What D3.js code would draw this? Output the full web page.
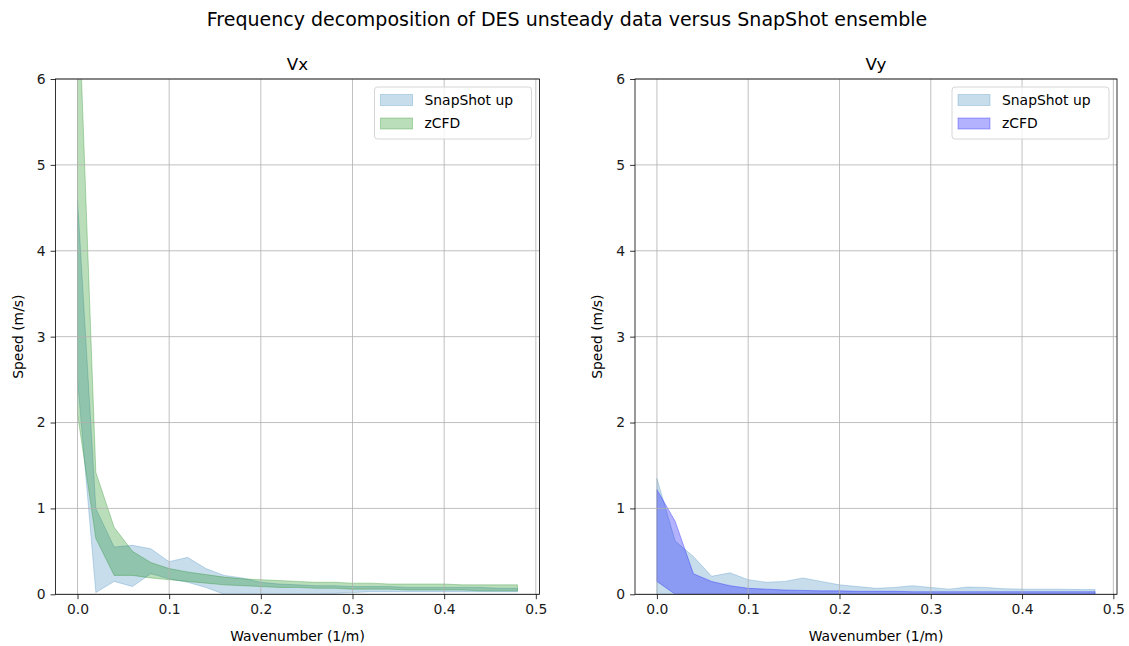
<!DOCTYPE html>
<html>
<head>
<meta charset="utf-8">
<script src="https://cdn.jsdelivr.net/npm/d3@7"></script>
<style>
  html, body { margin: 0; padding: 0; background: #fff; }
  svg { display: block; font-family: "DejaVu Sans", sans-serif; }
</style>
</head>
<body>
<svg id="chart" width="1129" height="646"></svg>
<script>
// ---------- data ----------
const wavenumber = [0.00, 0.02, 0.04, 0.06, 0.08, 0.10, 0.12, 0.14, 0.16, 0.18, 0.20, 0.22, 0.24,
                    0.26, 0.28, 0.30, 0.32, 0.34, 0.36, 0.38, 0.40, 0.42, 0.44, 0.46, 0.48];

const vxSnapUpper = [4.6, 1.0, 0.55, 0.57, 0.53, 0.38, 0.43, 0.30, 0.22, 0.19, 0.14, 0.12, 0.11,
                     0.10, 0.10, 0.09, 0.09, 0.09, 0.08, 0.08, 0.08, 0.08, 0.08, 0.07, 0.07];
const vxSnapLower = [2.5, 0.02, 0.15, 0.09, 0.24, 0.18, 0.14, 0.08, 0.0, 0.0, 0.0, 0.0, 0.0,
                     0.0, 0.01, 0.02, 0.03, 0.03, 0.03, 0.03, 0.03, 0.03, 0.03, 0.03, 0.03];
const vxZcfdUpper = [7.3, 1.42, 0.78, 0.50, 0.37, 0.30, 0.26, 0.23, 0.20, 0.18, 0.17, 0.16, 0.15,
                     0.14, 0.14, 0.13, 0.13, 0.12, 0.12, 0.12, 0.12, 0.11, 0.11, 0.11, 0.11];
const vxZcfdLower = [2.1, 0.65, 0.22, 0.22, 0.19, 0.17, 0.15, 0.13, 0.11, 0.10, 0.09, 0.08, 0.08,
                     0.07, 0.07, 0.06, 0.06, 0.06, 0.05, 0.05, 0.05, 0.05, 0.04, 0.04, 0.04];

const vySnapUpper = [1.35, 0.62, 0.44, 0.21, 0.25, 0.17, 0.14, 0.15, 0.19, 0.15, 0.11, 0.09, 0.07,
                     0.08, 0.10, 0.08, 0.06, 0.085, 0.08, 0.065, 0.06, 0.06, 0.06, 0.055, 0.055];
const vySnapLower = [0.0, 0.0, 0.0, 0.0, 0.0, 0.0, 0.0, 0.0, 0.0, 0.0, 0.0, 0.0, 0.0,
                     0.0, 0.0, 0.0, 0.0, 0.0, 0.0, 0.0, 0.0, 0.0, 0.0, 0.0, 0.0];
const vyZcfdUpper = [1.22, 0.85, 0.24, 0.15, 0.10, 0.07, 0.06, 0.05, 0.045, 0.04, 0.04, 0.035, 0.035,
                     0.035, 0.03, 0.03, 0.03, 0.03, 0.03, 0.03, 0.03, 0.03, 0.03, 0.03, 0.03];
const vyZcfdLower = [0.15, 0.0, 0.005, 0.005, 0.005, 0.005, 0.005, 0.005, 0.005, 0.005, 0.005, 0.005, 0.005,
                     0.005, 0.005, 0.005, 0.005, 0.005, 0.005, 0.005, 0.005, 0.005, 0.005, 0.005, 0.005];

const xTicks = [0.0, 0.1, 0.2, 0.3, 0.4, 0.5];
const yTicks = [0, 1, 2, 3, 4, 5, 6];
const seriesNames = ["SnapShot up", "zCFD"];
const suptitle = "Frequency decomposition of DES unsteady data versus SnapShot ensemble";
const xLabel = "Wavenumber (1/m)";
const yLabel = "Speed (m/s)";

// ---------- drawing ----------
const svg = d3.select("#chart");

svg.append("text")
  .attr("x", 567).attr("y", 26)
  .attr("text-anchor", "middle")
  .attr("font-size", 19)
  .attr("fill", "#000")
  .text(suptitle);

const panels = [
  { id: "vx", title: "Vx", x0: 55.5, x1: 539.5, upperA: vxSnapUpper, lowerA: vxSnapLower,
    upperB: vxZcfdUpper, lowerB: vxZcfdLower, colorA: "#1f77b4", alphaA: 0.25, colorB: "#008000", alphaB: 0.27 },
  { id: "vy", title: "Vy", x0: 635, x1: 1117, upperA: vySnapUpper, lowerA: vySnapLower,
    upperB: vyZcfdUpper, lowerB: vyZcfdLower, colorA: "#1f77b4", alphaA: 0.25, colorB: "#0000ff", alphaB: 0.3 }
];

const yTop = 79, yBot = 594.3;

panels.forEach(p => {
  const x = d3.scaleLinear().domain([-0.024, 0.504]).range([p.x0, p.x1]);
  const y = d3.scaleLinear().domain([0, 6]).range([yBot, yTop]);
  const g = svg.append("g");

  g.append("clipPath").attr("id", "clip-" + p.id)
    .append("rect").attr("x", p.x0).attr("y", yTop).attr("width", p.x1 - p.x0).attr("height", yBot - yTop);

  const plot = g.append("g").attr("clip-path", `url(#clip-${p.id})`);

  const makeArea = (up, lo) => d3.area()
    .x((d, i) => x(wavenumber[i]))
    .y0((d, i) => y(lo[i]))
    .y1((d, i) => y(up[i]));

  plot.append("path").datum(p.upperA)
    .attr("d", makeArea(p.upperA, p.lowerA))
    .attr("fill", p.colorA).attr("fill-opacity", p.alphaA)
    .attr("stroke", p.colorA).attr("stroke-opacity", p.alphaA).attr("stroke-width", 1);

  plot.append("path").datum(p.upperB)
    .attr("d", makeArea(p.upperB, p.lowerB))
    .attr("fill", p.colorB).attr("fill-opacity", p.alphaB)
    .attr("stroke", p.colorB).attr("stroke-opacity", p.alphaB).attr("stroke-width", 1);

  // grid
  const grid = g.append("g");
  xTicks.forEach(t => {
    grid.append("line").attr("x1", x(t)).attr("x2", x(t)).attr("y1", yTop).attr("y2", yBot)
      .attr("stroke", "#b0b0b0").attr("stroke-width", 0.8);
  });
  yTicks.forEach(t => {
    grid.append("line").attr("x1", p.x0).attr("x2", p.x1).attr("y1", y(t)).attr("y2", y(t))
      .attr("stroke", "#b0b0b0").attr("stroke-width", 0.8);
  });

  // axes
  const xAxis = d3.axisBottom(x).tickValues(xTicks).tickFormat(d3.format(".1f")).tickSizeInner(4.9).tickSizeOuter(0).tickPadding(4.9);
  const yAxis = d3.axisLeft(y).tickValues(yTicks).tickFormat(d3.format("d")).tickSizeInner(4.9).tickSizeOuter(0).tickPadding(4.9);

  const gx = g.append("g").attr("transform", `translate(0,${yBot})`).call(xAxis);
  const gy = g.append("g").attr("transform", `translate(${p.x0},0)`).call(yAxis);
  [gx, gy].forEach(a => {
    a.select(".domain").remove();
    a.selectAll("line").attr("stroke", "#000").attr("stroke-width", 0.8);
    a.selectAll("text").attr("font-size", 13.9).attr("fill", "#1a1a1a").attr("font-family", "DejaVu Sans");
  });

  // spines
  g.append("rect").attr("x", p.x0).attr("y", yTop).attr("width", p.x1 - p.x0).attr("height", yBot - yTop)
    .attr("fill", "none").attr("stroke", "#000").attr("stroke-width", 0.8);

  // titles and labels
  const cx = (p.x0 + p.x1) / 2;
  g.append("text").attr("x", cx).attr("y", 70).attr("text-anchor", "middle")
    .attr("font-size", 16.7).attr("fill", "#000").text(p.title);
  g.append("text").attr("x", cx).attr("y", 641).attr("text-anchor", "middle")
    .attr("font-size", 13.9).attr("fill", "#000").text(xLabel);
  g.append("text").attr("transform", `translate(${p.x0 - 33},${(yTop + yBot) / 2}) rotate(-90)`)
    .attr("text-anchor", "middle").attr("font-size", 13.9).attr("fill", "#000").text(yLabel);

  // legend
  const lx1 = p.x1 - 8, lx0 = lx1 - 157, ly0 = 87, ly1 = 139;
  const leg = g.append("g");
  leg.append("rect").attr("x", lx0).attr("y", ly0).attr("width", lx1 - lx0).attr("height", ly1 - ly0)
    .attr("rx", 3).attr("fill", "#fff").attr("fill-opacity", 0.8)
    .attr("stroke", "#d6d6d6").attr("stroke-width", 1);
  const items = [
    { name: seriesNames[0], color: p.colorA, alpha: p.alphaA, yc: 100 },
    { name: seriesNames[1], color: p.colorB, alpha: p.alphaB, yc: 123.5 }
  ];
  items.forEach(it => {
    leg.append("rect").attr("x", lx0 + 6).attr("y", it.yc - 5.5).attr("width", 32).attr("height", 11)
      .attr("fill", it.color).attr("fill-opacity", it.alpha)
      .attr("stroke", it.color).attr("stroke-opacity", it.alpha).attr("stroke-width", 1);
    leg.append("text").attr("x", lx0 + 50).attr("y", it.yc).attr("dy", "0.35em")
      .attr("font-size", 13.9).attr("fill", "#000").text(it.name);
  });
});
</script>
</body>
</html>
